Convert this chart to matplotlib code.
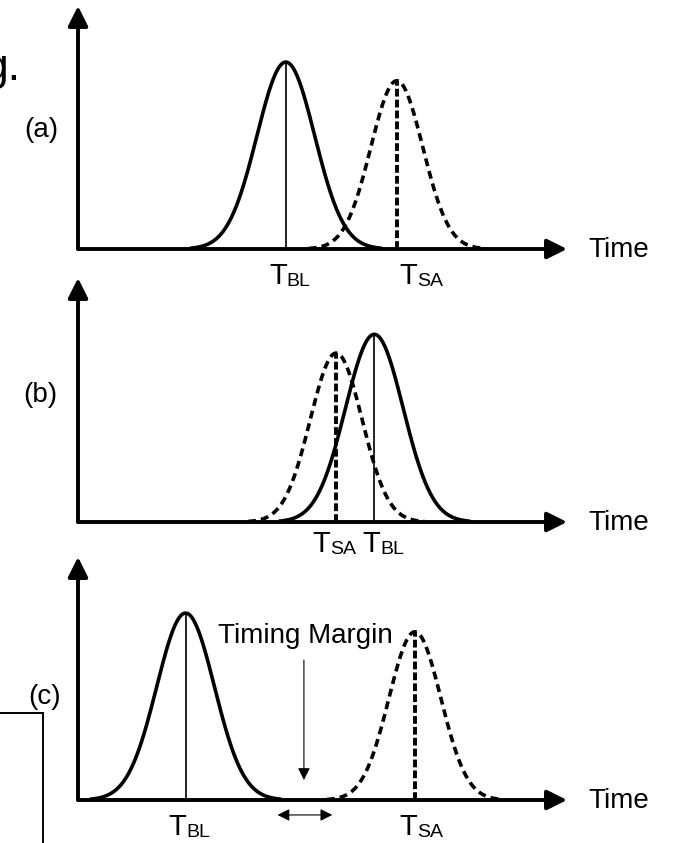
import numpy as np
import matplotlib
matplotlib.use('Agg')
import matplotlib.pyplot as plt
from matplotlib.lines import Line2D

plt.rcParams['font.family'] = ['Liberation Sans', 'DejaVu Sans']

# distribution parameters per panel (time axis 0..100, peak height in a.u.)
panel_names = ['(a)', '(b)', '(c)']
bl_mean = [42.5, 60.6, 22.0]
sa_mean = [65.2, 52.8, 68.9]
bl_sigma = [5.9, 5.9, 5.9]
sa_sigma = [5.3, 5.3, 5.3]
bl_peak = [1.0, 1.0, 1.0]
sa_peak = [0.9, 0.9, 0.9]
margin_span = [40.8, 52.0]     # timing margin in panel (c)

W, H = 673, 843
fig = plt.figure(figsize=(W / 100, H / 100), dpi=100)

# panel placement in pixels: (baseline y, arrow tip y)
boxes = [(249, 6), (522, 278), (800, 557)]
x0, x1 = 78, 567
label_pos = [(41, 130), (40, 395), (45, 697)]
# offsets (px) of T/subscript junction from the line, and drop below axis
bl_dx = [1, 6, 1]
sa_dx = [20, -6, 2]
lab_dy = [35, 30, 35]

px = 72 / 100.0   # pixels -> points


def gauss(x, mu, sig, a):
    return a * np.exp(-0.5 * ((x - mu) / sig) ** 2)


def tlabel(ax, x, sub, dx, dy):
    ax.annotate('T', xy=(x, 0), xycoords=('data', 'axes fraction'),
                xytext=(dx * px, -dy * px), textcoords='offset points',
                ha='right', va='baseline', fontsize=21)
    ax.annotate(sub, xy=(x, 0), xycoords=('data', 'axes fraction'),
                xytext=(dx * px, -(dy + 2) * px), textcoords='offset points',
                ha='left', va='baseline', fontsize=14)


for i in range(3):
    base, tip = boxes[i]
    ax = fig.add_axes([x0 / W, (H - base) / H, (x1 - x0) / W, (base - tip) / H])
    ax.set_xlim(0, 100)
    ax.set_ylim(0, 1.3)
    ax.axis('off')

    # axes arrows
    for end in [(1, 0), (0, 1)]:
        ax.annotate('', xy=end, xycoords='axes fraction', xytext=(0, 0),
                    arrowprops=dict(arrowstyle='-|>,head_length=0.4,head_width=0.2',
                                    mutation_scale=30, lw=2.8, color='black',
                                    shrinkA=0, shrinkB=0))

    # bit line (solid)
    xb = np.linspace(bl_mean[i] - 3.3 * bl_sigma[i], bl_mean[i] + 3.3 * bl_sigma[i], 300)
    ax.plot(xb, gauss(xb, bl_mean[i], bl_sigma[i], bl_peak[i]), color='black', lw=2.6,
            solid_capstyle='round')
    ax.plot([bl_mean[i], bl_mean[i]], [0, bl_peak[i]], color='black', lw=1.2)

    # sense amp (dashed)
    xs = np.linspace(sa_mean[i] - 3.4 * sa_sigma[i], sa_mean[i] + 3.4 * sa_sigma[i], 300)
    ax.plot(xs, gauss(xs, sa_mean[i], sa_sigma[i], sa_peak[i]), color='black', lw=2.6,
            linestyle=(0, (2.2, 1.4)))
    ax.plot([sa_mean[i], sa_mean[i]], [0, sa_peak[i]], color='black', lw=2.8,
            linestyle=(0, (2.0, 0.8)))

    tlabel(ax, bl_mean[i], 'BL', bl_dx[i], lab_dy[i])
    tlabel(ax, sa_mean[i], 'SA', sa_dx[i], lab_dy[i])

    ax.annotate('Time', xy=(1, 0), xycoords='axes fraction',
                xytext=(21 * px, -8 * px), textcoords='offset points',
                ha='left', va='baseline', fontsize=20)

    lx, ly = label_pos[i]
    fig.text(lx / W, 1 - ly / H, panel_names[i], ha='center', va='center', fontsize=20)

    if i == 2:
        ax.text(28.6, 0.84, 'Timing Margin', ha='left', va='baseline', fontsize=20)
        mid = (margin_span[0] + margin_span[1]) / 2 - 0.2
        ax.annotate('', xy=(mid, 0.107), xytext=(mid, 0.749),
                    arrowprops=dict(arrowstyle='-|>,head_length=0.4,head_width=0.2',
                                    mutation_scale=18, lw=0.8, color='black',
                                    shrinkA=0, shrinkB=0))
        ax.annotate('', xy=(margin_span[0], -0.08), xytext=(margin_span[1], -0.08),
                    annotation_clip=False,
                    arrowprops=dict(arrowstyle='<|-|>,head_length=0.4,head_width=0.2',
                                    mutation_scale=18, lw=0.8, color='black',
                                    shrinkA=0, shrinkB=0))

# leftover text and frame from the cropped page
fig.text(20 / W, 1 - 80 / H, 'g.', ha='right', va='baseline', fontsize=32)
fig.add_artist(Line2D([0, 43 / W], [1 - 713 / H, 1 - 713 / H], transform=fig.transFigure,
                      color='black', lw=1.4))
fig.add_artist(Line2D([43 / W, 43 / W], [1 - 713 / H, 0], transform=fig.transFigure,
                      color='black', lw=1.4))

fig.savefig('out.png', dpi=100)
